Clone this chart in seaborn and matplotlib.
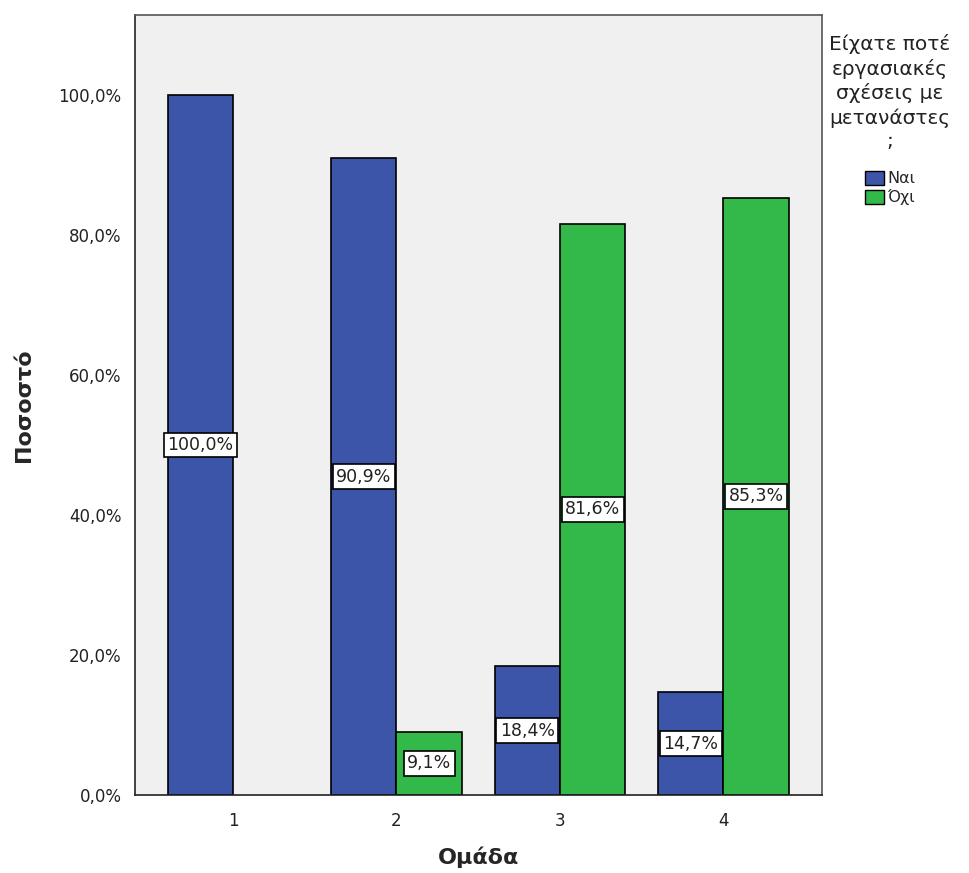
import seaborn as sns
import pandas as pd
import numpy as np
import matplotlib.pyplot as plt
from matplotlib.patches import Patch

# data
groups = ['1', '2', '3', '4']
answers = ['Ναι', 'Όχι']
yes_pct = [100.0, 90.9, 18.4, 14.7]
no_pct = [np.nan, 9.1, 81.6, 85.3]
colors = ['#3d55a8', '#33b84a']
legend_title = 'Είχατε ποτέ\nεργασιακές\nσχέσεις με\nμετανάστες\n;'

df = pd.DataFrame({
    'Ομάδα': groups * 2,
    'answer': [answers[0]] * 4 + [answers[1]] * 4,
    'pct': yes_pct + no_pct,
})

sns.set_style('white')
plt.rcParams['font.family'] = ['DejaVu Sans']

fig = plt.figure(figsize=(9.7, 8.73), dpi=100)
ax = fig.add_axes([0.139, 0.089, 0.708, 0.894])
ax.set_facecolor('#f0f0f0')

sns.barplot(data=df, x='Ομάδα', y='pct', hue='answer', hue_order=answers,
            palette=colors, width=0.8, edgecolor='black', linewidth=1.2,
            saturation=1, ax=ax, legend=False)

# value labels in the middle of each bar
for cont in ax.containers:
    for p in cont:
        h = p.get_height()
        if np.isnan(h) or h == 0:
            continue
        ax.text(p.get_x() + p.get_width() / 2, h / 2,
                f'{h:.1f}%'.replace('.', ','), ha='center', va='center',
                fontsize=12.5, color='#222222',
                bbox=dict(boxstyle='square,pad=0.2', fc='white', ec='black', lw=1.2))

ax.set_xlim(-0.6, 3.6)
ax.set_ylim(0, 111.4)
ax.set_yticks([0, 20, 40, 60, 80, 100])
ax.set_yticklabels([f'{v:.1f}%'.replace('.', ',') for v in [0, 20, 40, 60, 80, 100]])
ax.tick_params(axis='both', direction='out', length=6, width=1, labelsize=12, colors='#222222')
ax.tick_params(axis='x', pad=6)

for s in ax.spines.values():
    s.set_color('#555555')
    s.set_linewidth(1.2)
ax.spines['left'].set_color('#222222')
ax.spines['bottom'].set_color('#222222')

ax.set_xlabel('Ομάδα', fontsize=16, fontweight='bold', labelpad=12)
ax.set_ylabel('Ποσοστό', fontsize=16, fontweight='bold', labelpad=18)

handles = [Patch(facecolor=c, edgecolor='black', label=a) for c, a in zip(colors, answers)]
leg = ax.legend(handles=handles, title=legend_title, loc='upper left',
                bbox_to_anchor=(0.995, 0.99), frameon=False, fontsize=11.5,
                title_fontsize=14.5, handlelength=1.2, handleheight=1.0,
                handletextpad=0.2, labelspacing=0.2, borderpad=0.2)
leg.get_title().set_multialignment('center')
leg.get_title().set_linespacing(1.3)
leg.get_title().set_color('#222222')
leg._legend_box.align = 'center'
leg._legend_box.sep = 14

fig.savefig('out.png', dpi=100)
